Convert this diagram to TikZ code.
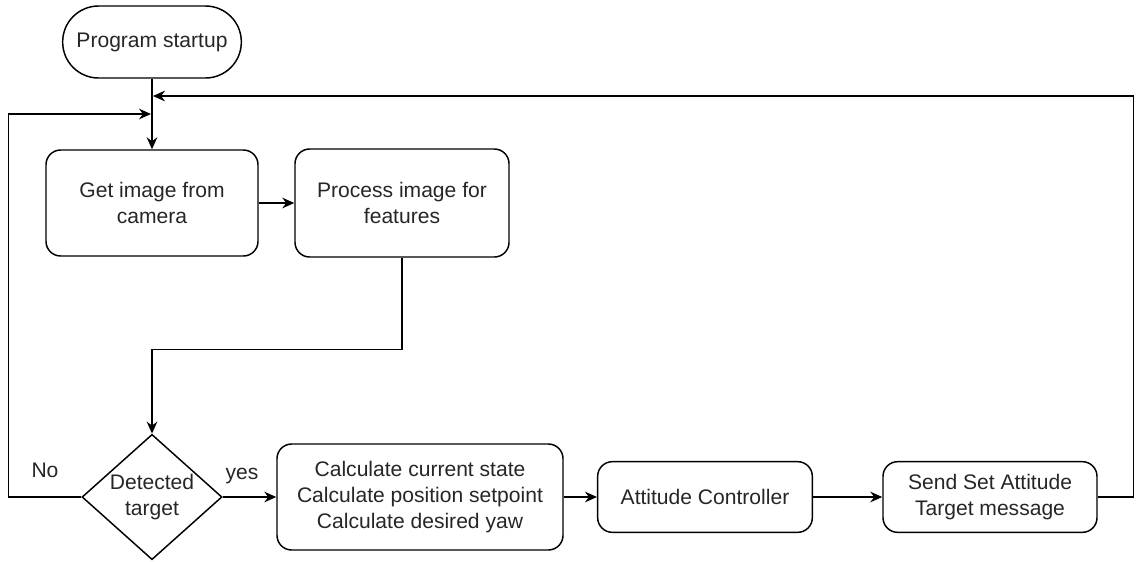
\documentclass[tikz,border=0pt]{standalone}
\usepackage{fontspec}
\setmainfont{Liberation Sans}
\usetikzlibrary{arrows.meta,shapes.geometric}
\begin{document}
\begin{tikzpicture}[x=0.75pt,y=-0.75pt,
  every node/.style={font=\fontsize{15.8}{19.8}\selectfont, text=black!85},
  box/.style={draw, line width=1.1pt, rounded corners=11pt, align=center, inner sep=0pt},
  startbox/.style={draw, line width=1.1pt, rounded corners=26.9pt, align=center, inner sep=0pt,
    minimum width=134pt, minimum height=54pt},
  decision/.style={draw, line width=1.1pt, diamond, aspect=1.12, align=center, inner sep=0pt,
    minimum width=105pt, minimum height=94pt},
  arr/.style={draw, line width=1.1pt, -{Stealth[length=9pt,width=8pt]}},
  lbl/.style={inner sep=1pt}
]
\useasboundingbox (0,0) rectangle (1138,561);

\node[startbox] (start) at (152,42) {Program startup};
\node[box, minimum width=159pt, minimum height=79.5pt] (get) at (152,203) {Get image from\\camera};
\node[box, minimum width=160.5pt, minimum height=81pt] (proc) at (402,203) {Process image for\\features};
\node[decision] (dia) at (152,497) {Detected\\target};
\node[box, minimum width=214.5pt, minimum height=79.5pt] (calc) at (420,497) {Calculate current state\\Calculate position setpoint\\Calculate desired yaw};
\node[box, minimum width=161pt, minimum height=53pt] (att) at (705,497) {Attitude Controller};
\node[box, minimum width=160.5pt, minimum height=53pt] (send) at (990,497) {Send Set Attitude\\Target message};

\coordinate (loopR) at (153,96);
\coordinate (loopL) at (151,114);

\draw[arr] (start) -- (get);
\draw[arr] (get) -- (proc);
\draw[arr] (proc.south) -- ++(0,92) -| (dia.north);
\draw[arr] (dia.east) -- (calc.west);
\node[lbl] (yes) at (242,476) {yes};
\draw[arr] (calc) -- (att);
\draw[arr] (att) -- (send);
\draw[arr] (send.east) -- ++(36,0) |- (loopR);
\draw[arr] (dia.west) -- ++(-73,0) |- (loopL);
\node[lbl] (no) at (45,470) {No};
\end{tikzpicture}
\end{document}
